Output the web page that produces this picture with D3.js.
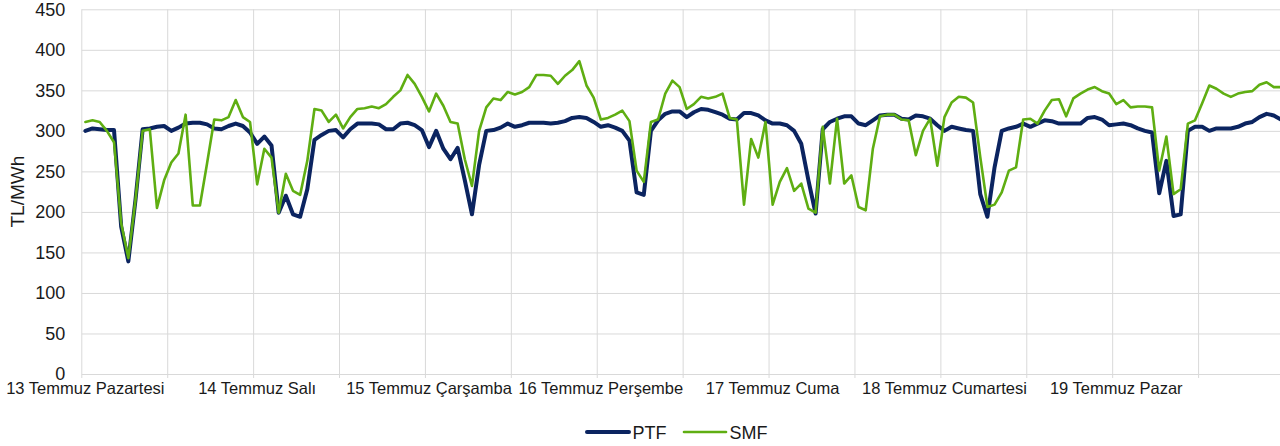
<!DOCTYPE html>
<head>
  <meta charset="utf-8">
  <script src="https://d3js.org/d3.v7.min.js"></script>
  <style>
    body { margin: 0; background: #fff; }
    text { font-family: "Liberation Sans", Arial, sans-serif; fill: #1a1a1a; }
    .grid line, .yaxis line { stroke: #d9d9d9; stroke-width: 1px; }
    .series { fill: none; stroke-linejoin: round; stroke-linecap: round; }
  </style>
</head>
<body>
  <svg width="1280" height="446"></svg>
  <script>
    var dayLabels = ["13 Temmuz Pazartesi", "14 Temmuz Salı", "15 Temmuz Çarşamba", "16 Temmuz Perşembe",
      "17 Temmuz Cuma", "18 Temmuz Cumartesi", "19 Temmuz Pazar"];
    var yTicks = [0, 50, 100, 150, 200, 250, 300, 350, 400, 450];

    // hourly values, 7 days x 24 hours
    var ptf = [
      300, 303, 302, 301, 301, 182, 139, 215, 302, 303, 305, 306, 300, 304, 309, 310, 310, 308, 303, 302, 306, 309, 306, 298,
      284, 293, 282, 199, 220, 197, 194, 228, 289, 295, 300, 301, 292, 302, 309, 309, 309, 308, 302, 302, 309, 310, 307, 301,
      280, 300, 278, 265, 279, 239, 197, 258, 300, 301, 304, 309, 305, 307, 310, 310, 310, 309, 310, 312, 316, 317, 316, 311,
      305, 307, 304, 300, 288, 224, 221, 300, 313, 321, 324, 324, 317, 323, 327, 326, 323, 320, 315, 314, 322, 322, 319, 313,
      309, 309, 307, 300, 284, 239, 198, 302, 311, 315, 318, 318, 309, 307, 313, 319, 320, 320, 315, 314, 319, 318, 315, 307,
      300, 305, 303, 301, 300, 222, 194, 255, 300, 303, 305, 309, 305, 309, 313, 312, 309, 309, 309, 309, 316, 317, 314, 307,
      308, 309, 307, 303, 300, 298, 223, 263, 195, 197, 300, 305, 305, 300, 303, 303, 303, 305, 309, 311, 317, 321, 319, 314
    ];
    var smf = [
      311, 313, 311, 300, 286, 186, 143, 215, 300, 302, 205, 239, 261, 272, 320, 208, 208, 260, 314, 313, 317, 338, 317, 311,
      234, 278, 267, 199, 247, 226, 221, 263, 327, 325, 311, 320, 303, 317, 327, 328, 330, 328, 333, 342, 350, 369, 358, 342,
      324, 346, 331, 311, 309, 265, 232, 300, 329, 340, 338, 348, 345, 348, 354, 369, 369, 368, 358, 368, 375, 386, 356, 341,
      314, 316, 320, 325, 312, 251, 237, 311, 314, 346, 362, 354, 327, 333, 342, 340, 342, 346, 316, 314, 209, 290, 267, 311,
      209, 237, 254, 226, 235, 204, 199, 305, 235, 315, 235, 245, 206, 202, 278, 318, 320, 320, 314, 313, 270, 300, 315, 257,
      317, 335, 342, 341, 335, 268, 206, 209, 224, 251, 255, 314, 315, 309, 325, 338, 339, 318, 340, 346, 351, 354, 349, 346,
      333, 338, 329, 330, 330, 329, 251, 293, 222, 228, 309, 313, 334, 356, 352, 346, 342, 346, 348, 349, 357, 360, 354, 354
    ];

    var svg = d3.select("svg");
    var plotLeft = 81.8, plotRight = 1284.5, plotTop = 9.3, plotBottom = 374;
    var n = ptf.length;

    var x = d3.scaleLinear().domain([0, n]).range([plotLeft, plotRight]);
    var y = d3.scaleLinear().domain([0, 450]).range([plotBottom, plotTop]);

    // horizontal gridlines + y labels
    var yAxis = d3.axisLeft(y)
      .tickValues(yTicks)
      .tickSize(-(plotRight - plotLeft))
      .tickPadding(16.5);
    var yg = svg.append("g")
      .attr("class", "yaxis")
      .attr("transform", "translate(" + plotLeft + ",0)")
      .call(yAxis);
    yg.select(".domain").remove();
    yg.selectAll("text")
      .style("font-size", "18px")
      .style("font-family", "'Liberation Sans', Arial, sans-serif")
      .attr("fill", "#1a1a1a");

    // vertical gridlines every 12 hours, with small ticks below the axis
    var grid = svg.append("g").attr("class", "grid");
    grid.selectAll("line.v")
      .data(d3.range(0, n + 1, 12))
      .enter().append("line")
      .attr("class", "v")
      .attr("x1", function (d) { return x(d); })
      .attr("x2", function (d) { return x(d); })
      .attr("y1", plotTop)
      .attr("y2", plotBottom + 4);

    // x labels centred on first hour of each day
    svg.append("g").selectAll("text")
      .data(dayLabels)
      .enter().append("text")
      .attr("x", function (d, i) { return x(i * 24 + 0.5); })
      .attr("y", 394)
      .attr("text-anchor", "middle")
      .style("font-size", "16.5px")
      .text(function (d) { return d; });

    // y title
    svg.append("text")
      .attr("transform", "translate(24," + ((plotTop + plotBottom) / 2) + ") rotate(-90)")
      .attr("text-anchor", "middle")
      .style("font-size", "19px")
      .text("TL/MWh");

    var line = d3.line()
      .x(function (d, i) { return x(i + 0.5); })
      .y(function (d) { return y(d); });

    svg.append("path")
      .datum(ptf)
      .attr("class", "series")
      .attr("stroke", "#0b2460")
      .attr("stroke-width", 4)
      .attr("d", line);

    svg.append("path")
      .datum(smf)
      .attr("class", "series")
      .attr("stroke", "#5fae12")
      .attr("stroke-width", 2.6)
      .attr("d", line);

    // legend
    var legendItems = [
      { name: "PTF", color: "#0b2460", w: 4, x: 587 },
      { name: "SMF", color: "#5fae12", w: 2.6, x: 684 }
    ];
    var lg = svg.append("g").selectAll("g")
      .data(legendItems)
      .enter().append("g")
      .attr("transform", function (d) { return "translate(" + d.x + ",432)"; });
    lg.append("line")
      .attr("x1", 0).attr("x2", 42)
      .attr("stroke", function (d) { return d.color; })
      .attr("stroke-width", function (d) { return d.w; })
      .attr("stroke-linecap", "round");
    lg.append("text")
      .attr("x", 45.5)
      .attr("y", 6.5)
      .style("font-size", "18px")
      .text(function (d) { return d.name; });
  </script>
</body>
